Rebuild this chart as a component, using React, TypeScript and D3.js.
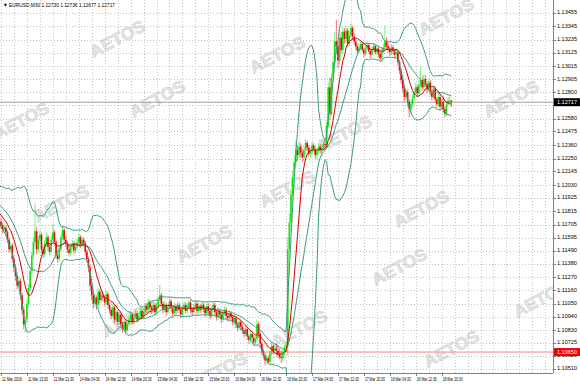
import React from 'react';
import * as d3 from 'd3';

const W = 580;
const H = 385;

// closes before the first visible bar (pips above 1.10000), used for indicator warm-up
const priorCloses = [194,197,193,196,191,194,197,192,189,191,186,183,186,181,183,178,176,179,174,173];

// visible M30 bars: [high, low, close] in pips above 1.10000 (open = previous close)
const bars: number[][] = [
[176,167,170],[172,163,166],[171,164,168],[170,161,164],[166,155,158],[160,147,150],[156,148,153],[155,139,142],[145,131,135],[138,124,128],
[131,117,120],[127,118,124],[126,108,112],[114,96,100],[103,84,88],[95,81,92],[108,89,105],[121,102,118],[135,115,132],[148,129,145],
[160,142,156],[188,152,165],[168,146,150],[161,147,158],[166,155,162],[164,147,150],[153,143,146],[158,143,155],[164,152,160],[162,149,152],
[155,145,148],[161,146,158],[171,156,164],[166,153,156],[158,142,145],[148,139,142],[153,140,150],[163,148,160],[170,158,166],[168,155,158],
[161,152,155],[157,147,150],[153,144,147],[155,145,152],[158,150,155],[157,146,149],[155,147,152],[159,150,156],[163,154,160],[162,151,154],
[161,152,158],[160,152,155],[157,145,148],[150,139,142],[144,131,135],[137,116,120],[123,108,112],[115,101,105],[113,102,110],[112,100,104],
[118,102,115],[117,105,108],[115,106,112],[114,107,110],[112,103,106],[116,104,113],[115,101,104],[106,97,100],[102,92,95],[105,93,102],
[104,89,92],[101,90,98],[100,87,90],[99,88,96],[98,85,88],[90,81,84],[93,82,90],[92,80,83],[91,81,88],[95,86,92],
[99,90,96],[98,88,90],[97,88,94],[100,92,97],[99,90,92],[98,90,95],[102,93,99],[101,92,94],[101,92,98],[106,96,103],
[105,97,100],[109,98,106],[108,99,102],[104,97,100],[107,98,104],[106,95,98],[106,96,103],[111,101,108],[121,106,112],[114,102,105],
[107,97,100],[107,98,104],[106,95,98],[105,96,102],[110,100,107],[109,98,101],[103,94,97],[106,95,103],[105,96,99],[107,97,104],
[106,97,100],[102,93,96],[104,94,101],[107,99,104],[106,97,99],[106,97,103],[109,101,106],[108,97,100],[102,95,98],[105,96,102],
[108,100,105],[107,96,99],[106,97,103],[105,97,100],[107,98,104],[106,98,101],[103,94,97],[106,95,103],[105,96,99],[101,92,95],
[103,93,100],[107,98,104],[106,95,98],[100,91,94],[102,92,99],[101,93,96],[98,89,92],[100,90,97],[103,95,100],[102,92,95],
[97,90,93],[100,91,97],[99,91,94],[96,87,90],[96,88,93],[95,85,88],[90,82,85],[93,83,90],[92,83,86],[88,80,83],
[85,77,80],[87,78,84],[86,75,78],[80,72,75],[83,73,80],[82,74,77],[79,70,73],[79,71,76],[92,74,88],[90,77,80],
[82,69,72],[74,63,66],[68,59,62],[64,54,58],[63,55,60],[62,55,57],[67,55,64],[73,62,70],[72,63,66],[71,64,68],
[72,62,66],[70,60,63],[68,59,61],[66,56,60],[67,57,64],[72,62,69],[74,65,70],
[160,62,150],[180,142,172],[200,165,195],[215,188,210],[228,205,222],[240,218,232],[236,223,228],[239,225,235],[238,226,230],[233,222,226],
[235,223,232],[241,229,238],[240,231,234],[236,226,229],[234,226,231],[239,228,236],[238,230,233],[235,225,228],[234,224,231],
[238,229,235],[237,229,232],[237,227,234],[240,232,237],[240,233,236],[256,234,252],[288,250,284],[292,257,262],[296,260,292],
[310,288,305],[330,300,322],[340,312,318],[322,300,306],[328,303,325],[330,312,315],[334,312,330],[333,320,324],[335,321,331],[333,317,320],
[330,318,327],[337,324,333],[335,323,326],[329,319,322],[324,315,318],[320,311,314],[320,312,317],[323,315,320],[322,313,315],[317,309,312],
[319,310,316],[322,314,319],[321,312,314],[316,308,311],[318,309,315],[321,313,318],[320,311,313],[319,311,316],[318,309,312],[314,305,308],
[317,306,314],[320,312,317],[335,315,322],[325,315,318],[321,313,316],[318,310,313],[320,311,317],[319,311,314],[316,308,311],[316,309,313],
[315,302,305],[307,295,298],[300,287,290],[292,280,283],[286,272,276],[283,274,280],[282,268,272],[274,259,266],[273,263,270],[278,268,275],
[283,273,280],[288,278,284],[286,276,279],[290,277,286],[301,284,290],[293,281,284],[295,282,291],[294,284,287],[289,279,282],[291,280,288],
[290,277,280],[282,273,276],[286,274,283],[285,271,274],[276,267,270],[279,268,276],[278,265,268],[275,266,272],[277,263,266],
[268,259,262],[273,260,270],[276,268,273],[278,270,273],[273.6,267.7,271.7]
];

const priceTicks = [1.13455,1.13345,1.13235,1.13125,1.13015,1.12905,1.12800,1.12580,1.12475,1.12360,1.12250,1.12145,1.12030,1.11925,1.11815,1.11705,1.11595,1.11490,1.11380,1.11270,1.11160,1.11050,1.10940,1.10830,1.10725,1.10620,1.10510];
const gridOnlyPrices = [1.12690];
const timeLabels = ['11 Mar 2016','11 Mar 13:30','11 Mar 21:30','14 Mar 04:30','14 Mar 12:30','14 Mar 20:30','15 Mar 04:30','15 Mar 12:30','15 Mar 20:30','16 Mar 04:30','16 Mar 12:30','16 Mar 20:30','17 Mar 04:30','17 Mar 12:30','17 Mar 20:30','18 Mar 04:30','18 Mar 12:30','18 Mar 20:30'];
const timeLabelBars = [0,16,32,48,64,80,96,112,128,144,160,176,192,208,224,240,256,272];
const gridBarStep = 8;

const titleText = 'EURUSD,M30  1.12730 1.12736 1.12677 1.12717';
const lastPrice = 1.12717;
const redLevel = 1.10650;

const watermarks = [[118,40],[278,56],[447,18],[158,100],[345,135],[512,100],[22,122],[288,190],[422,210],[62,205],[205,245],[400,268],[542,300],[130,320],[300,330],[452,350],[220,372]];

const BB_PERIOD = 20;
const BB_DEV = 2;
const MA_PERIOD = 10;

export default function App() {
  const plotRight = 553;
  const plotBottom = 373;
  const toPrice = (p: number) => 1.1 + p / 10000;

  const closesAll = priorCloses.concat(bars.map(b => b[2])).map(toPrice);
  const offset = priorCloses.length;

  const y = d3.scaleLinear().domain([1.1051, 1.13455]).range([369, 13]);
  const x = d3.scaleLinear().domain([0, 1]).range([1, 2.62]);

  const sma = (arr: number[], end: number, n: number) => d3.mean(arr.slice(end - n + 1, end + 1)) as number;
  const bandPts: { i: number; mid: number; up: number; lo: number; ma: number }[] = [];
  for (let k = BB_PERIOD - 1; k < closesAll.length; k++) {
    const win = closesAll.slice(k - BB_PERIOD + 1, k + 1);
    const m = d3.mean(win) as number;
    const sd = Math.sqrt(d3.mean(win.map(v => (v - m) * (v - m))) as number);
    bandPts.push({ i: k - offset, mid: m, up: m + BB_DEV * sd, lo: m - BB_DEV * sd, ma: sma(closesAll, k, MA_PERIOD) });
  }
  const line = (acc: (d: any) => number) =>
    d3.line<any>().x(d => x(d.i)).y(d => y(acc(d))).curve(d3.curveLinear)(bandPts) as string;

  const vGrid = d3.range(0, 360, gridBarStep);

  const bull = '#14e014';
  const bear = '#e00c0c';
  const teal = '#3a9e78';
  const font = "'Liberation Sans', Arial, sans-serif";

  return (
    <div style={{ position: 'fixed', left: 0, top: 0 }}>
      <svg width={W} height={H} style={{ display: 'block', background: '#fff' }} fontFamily={font}>
        <defs>
          <clipPath id="plot"><rect x={0} y={0} width={plotRight} height={plotBottom} /></clipPath>
        </defs>
        <rect width={W} height={H} fill="#fff" />
        {/* watermarks */}
        <g clipPath="url(#plot)">
          {watermarks.map(([wx, wy], k) => (
            <text key={k} x={wx} y={wy} fontSize={17} fontWeight="bold" fill="#e4e4e4" stroke="#d6d6d6" strokeWidth={0.6} textAnchor="middle" dominantBaseline="middle" transform={`rotate(-28 ${wx} ${wy})`} textLength={60} lengthAdjust="spacingAndGlyphs">AETOS</text>
          ))}
        </g>
        {/* grid */}
        <g stroke="#c4c4c4" strokeWidth={1} strokeDasharray="1,2" clipPath="url(#plot)">
          {priceTicks.concat(gridOnlyPrices).map((p, k) => (
            <line key={'h' + k} x1={0} x2={plotRight} y1={Math.round(y(p)) + 0.5} y2={Math.round(y(p)) + 0.5} />
          ))}
          {vGrid.map((b, k) => (
            <line key={'v' + k} x1={Math.round(x(b)) + 0.5} x2={Math.round(x(b)) + 0.5} y1={0} y2={plotBottom} />
          ))}
        </g>
        {/* horizontal levels */}
        <line x1={0} x2={plotRight} y1={y(lastPrice)} y2={y(lastPrice)} stroke="#a0a0a0" strokeWidth={1} />
        <line x1={0} x2={plotRight} y1={y(redLevel)} y2={y(redLevel)} stroke="#e89090" strokeWidth={1} />
        {/* candles */}
        <g clipPath="url(#plot)">
          {bars.map((b, i) => {
            const o = toPrice(i === 0 ? priorCloses[priorCloses.length - 1] : bars[i - 1][2]);
            const hi = toPrice(b[0]);
            const lo = toPrice(b[1]);
            const c = toPrice(b[2]);
            const col = c >= o ? bull : bear;
            const cx = x(i);
            const top = y(Math.max(o, c));
            const bot = y(Math.min(o, c));
            return (
              <g key={i}>
                <line x1={cx} x2={cx} y1={y(hi)} y2={y(lo)} stroke={col} strokeWidth={0.8} strokeOpacity={0.7} />
                <rect x={cx - 0.8} y={top} width={1.6} height={Math.max(0.8, bot - top)} fill={col} />
              </g>
            );
          })}
          <path d={line(d => d.up)} fill="none" stroke={teal} strokeWidth={1} />
          <path d={line(d => d.lo)} fill="none" stroke={teal} strokeWidth={1} />
          <path d={line(d => d.mid)} fill="none" stroke={teal} strokeWidth={1} />
          <path d={line(d => d.ma)} fill="none" stroke="#d40000" strokeWidth={1} />
        </g>
        {/* frame */}
        <line x1={plotRight + 0.5} x2={plotRight + 0.5} y1={0} y2={plotBottom} stroke="#808080" />
        <line x1={0} x2={plotRight} y1={plotBottom + 0.5} y2={plotBottom + 0.5} stroke="#808080" />
        {/* price axis */}
        <g fontSize={5.5} fill="#000">
          {priceTicks.map((p, k) => (
            <g key={k}>
              <line x1={plotRight} x2={plotRight + 3} y1={Math.round(y(p)) + 0.5} y2={Math.round(y(p)) + 0.5} stroke="#808080" />
              <text x={plotRight + 4} y={y(p)} dominantBaseline="middle" textLength={20} lengthAdjust="spacingAndGlyphs">{p.toFixed(5)}</text>
            </g>
          ))}
          <rect x={plotRight + 1} y={y(lastPrice) - 4} width={26} height={8} fill="#000" />
          <text x={plotRight + 4} y={y(lastPrice)} dominantBaseline="middle" fill="#fff" textLength={20} lengthAdjust="spacingAndGlyphs">{lastPrice.toFixed(5)}</text>
          <rect x={plotRight + 1} y={y(redLevel) - 4} width={26} height={8} fill="#f00000" />
          <text x={plotRight + 4} y={y(redLevel)} dominantBaseline="middle" fill="#fff" textLength={20} lengthAdjust="spacingAndGlyphs">{redLevel.toFixed(5)}</text>
        </g>
        {/* time axis */}
        <g fontSize={4.6} fill="#000">
          {timeLabelBars.map((b, k) => (
            <g key={k}>
              <line x1={Math.round(x(b)) + 0.5} x2={Math.round(x(b)) + 0.5} y1={plotBottom} y2={plotBottom + 3} stroke="#808080" />
              <text x={x(b) + 1} y={381} textLength={20} lengthAdjust="spacingAndGlyphs">{timeLabels[k]}</text>
            </g>
          ))}
        </g>
        {/* title */}
        <text x={3} y={7} fontSize={5.5} fill="#000" textLength={112} lengthAdjust="spacingAndGlyphs">▼ {titleText}</text>
      </svg>
    </div>
  );
}
